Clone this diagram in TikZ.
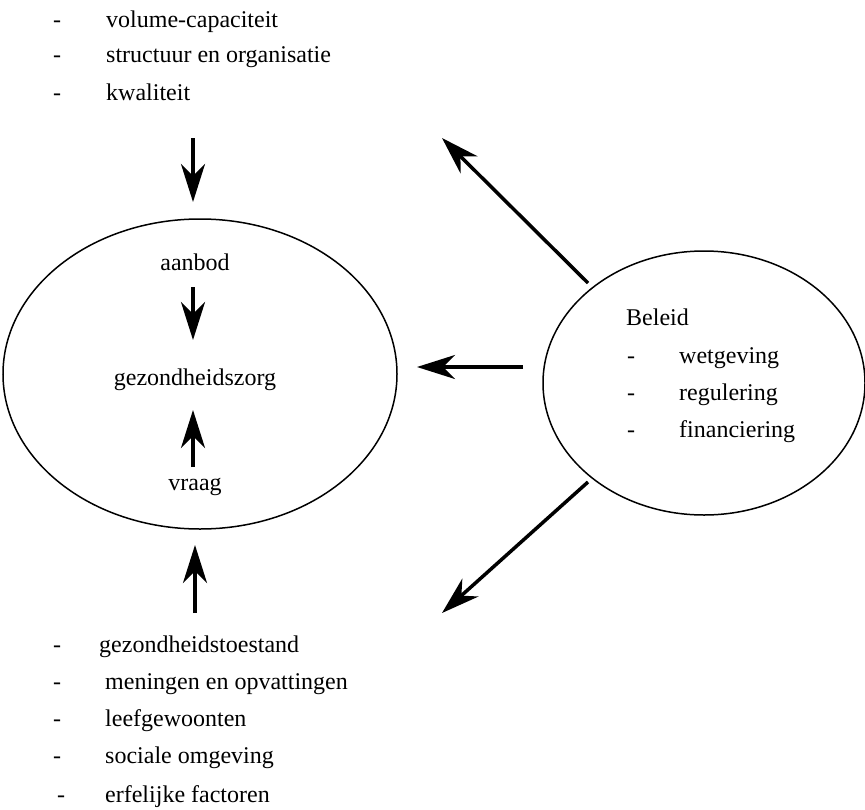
\documentclass[tikz,border=0pt]{standalone}
\usepackage{fontspec}
\setmainfont{Liberation Serif}
\newfontfamily\schemafont{Liberation Serif}
\usetikzlibrary{shapes.geometric,arrows.meta}

\begin{document}
\begin{tikzpicture}[x=1pt, y=-1pt,
    txt/.style={font=\schemafont\fontsize{24}{29}\selectfont, inner sep=0pt, anchor=base west},
    lbl/.style={font=\schemafont\fontsize{24}{29}\selectfont, inner sep=0pt, anchor=base},
    oval/.style={ellipse, draw=black, line width=1.5pt, inner sep=0pt},
    arr/.style={-{Stealth[length=38pt,width=24pt,inset=12pt]}, line width=3.5pt}
]
\useasboundingbox (0,0) rectangle (865,809);

% de zorg
\node[oval, minimum width=394pt, minimum height=310pt] (zorg) at (200,374) {};
\node[lbl] (aanbod) at (195,270) {aanbod};
\node[lbl] (gzorg) at (195,385) {gezondheidszorg};
\node[lbl] (vraag) at (195,490) {vraag};

% beleid
\node[oval, minimum width=322pt, minimum height=264pt] (beleid) at (704,383) {};
\node[txt] (bel) at (626,325) {Beleid};
\node[txt] (bd1) at (627,363) {-};
\node[txt] (wet) at (679,363) {wetgeving};
\node[txt] (bd2) at (627,400) {-};
\node[txt] (reg) at (679,400) {regulering};
\node[txt] (bd3) at (627,437) {-};
\node[txt] (fin) at (679,437) {financiering};

% aanbod factoren
\node[txt] (ad1) at (53,27) {-};
\node[txt] (vol) at (106,27) {volume-capaciteit};
\node[txt] (ad2) at (53,62) {-};
\node[txt] (str) at (106,62) {structuur en organisatie};
\node[txt] (ad3) at (53,100) {-};
\node[txt] (kwa) at (106,100) {kwaliteit};

% vraag factoren
\node[txt] (vd1) at (53,652) {-};
\node[txt] (gez) at (99,652) {gezondheidstoestand};
\node[txt] (vd2) at (53,689) {-};
\node[txt] (men) at (105,689) {meningen en opvattingen};
\node[txt] (vd3) at (53,726) {-};
\node[txt] (lee) at (105,726) {leefgewoonten};
\node[txt] (vd4) at (53,763) {-};
\node[txt] (soc) at (105,763) {sociale omgeving};
\node[txt] (vd5) at (57,802) {-};
\node[txt] (erf) at (105,802) {erfelijke factoren};

% pijlen
\coordinate (topin) at (193,138);
\coordinate (topuit) at (193,202);
\coordinate (aanin) at (193,287);
\coordinate (aanuit) at (193,340);
\coordinate (vrin) at (193,467);
\coordinate (vruit) at (193,410);
\coordinate (botin) at (195,613);
\coordinate (botuit) at (195,545);
\coordinate (belboven) at (588,283);
\coordinate (pijlboven) at (442,138);
\coordinate (belmidden) at (523,367);
\coordinate (pijlmidden) at (417,367);
\coordinate (belonder) at (588,482);
\coordinate (pijlonder) at (442,613);

\draw[arr] (topin) -- (topuit);
\draw[arr] (aanin) -- (aanuit);
\draw[arr] (vrin) -- (vruit);
\draw[arr] (botin) -- (botuit);
\draw[arr] (belboven) -- (pijlboven);
\draw[arr] (belmidden) -- (pijlmidden);
\draw[arr] (belonder) -- (pijlonder);
\end{tikzpicture}
\end{document}
